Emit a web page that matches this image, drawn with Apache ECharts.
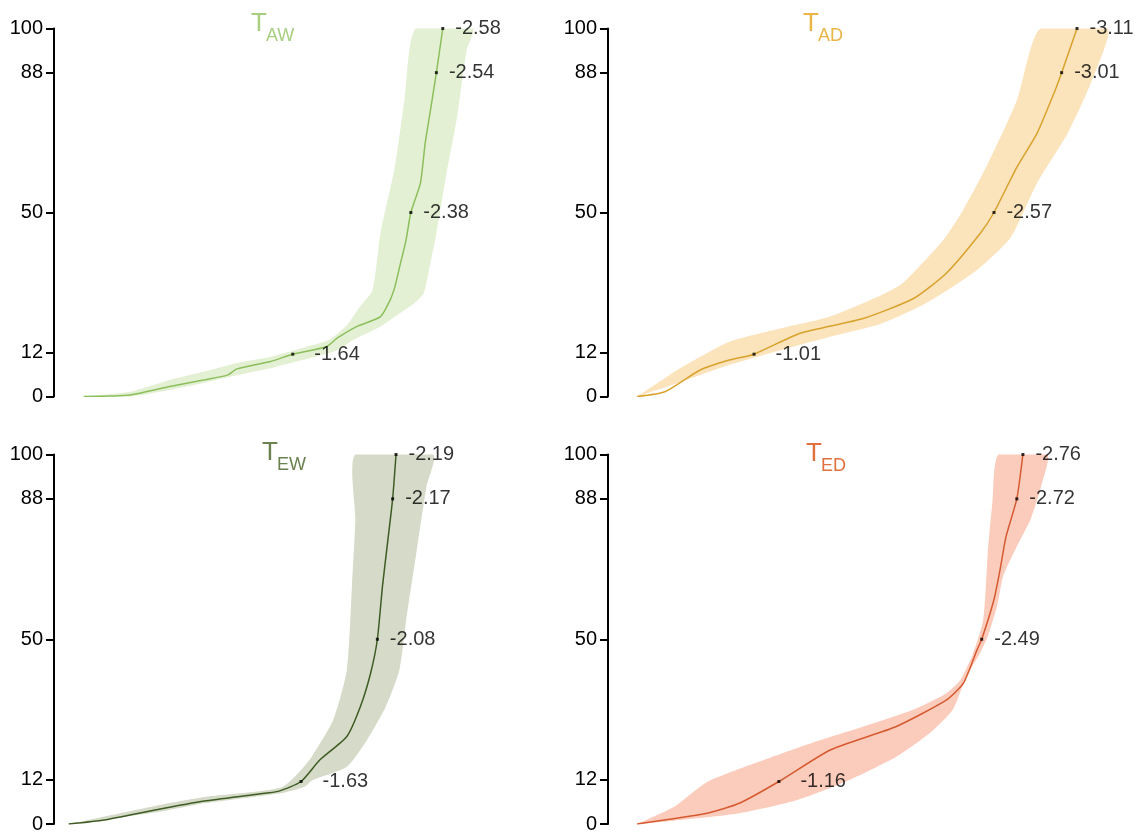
<!DOCTYPE html>
<html>
<head>
<meta charset="utf-8">
<script src="https://cdn.jsdelivr.net/npm/echarts@6/dist/echarts.min.js"></script>
<style>
  html, body { margin: 0; padding: 0; background: #fff; }
  #chart { width: 1138px; height: 834px; }
</style>
</head>
<body>
<div id="chart"></div>
<script>
// Percent levels on the y axis and the quantile levels that carry a labelled dot
const TICKS = [0, 12, 50, 88, 100];
const LEVELS = [11.5, 50, 88, 100];

// Panel subscripts (T_AW, T_AD, T_EW, T_ED)
const panelNames = ['AW', 'AD', 'EW', 'ED'];

// ---- T_AW : [value, percent] ----
const tawLine = [[-0.33,0],[-0.62,0.4],[-0.87,2.7],[-1.08,4.5],[-1.23,5.8],[-1.29,7.5],[-1.50,9.5],
  [-1.85,13.5],[-1.92,15.9],[-2.04,19.0],[-2.19,21.7],[-2.25,26.2],[-2.28,29.8],[-2.31,35.3],[-2.35,42.5],
  [-2.44,58.0],[-2.47,68.9],[-2.50,77.0]];
const tawUpper = [[-0.33,0],[-0.62,1.3],[-0.87,4.5],[-1.08,6.7],[-1.29,9.1],[-1.50,10.8],[-1.70,13.2],
  [-1.87,15.4],[-1.98,19.4],[-2.06,24.4],[-2.14,28.9],[-2.19,44.4],[-2.28,62.4],[-2.34,80.6],[-2.41,100]];
const tawLower = [[-0.33,0],[-0.62,0],[-0.87,1.8],[-1.08,3.7],[-1.29,5.8],[-1.50,7.7],[-1.70,9.9],
  [-1.92,12.6],[-2.02,15.4],[-2.19,19.0],[-2.31,22.6],[-2.40,25.3],[-2.46,28.0],[-2.49,33.5],[-2.54,44.3],
  [-2.60,59.7],[-2.67,76.0],[-2.73,94.2],[-2.77,100]];
const tawMarks = [-1.64, -2.38, -2.54, -2.58];

// ---- T_AD ----
const tadLine = [[-0.25,0],[-0.43,1.3],[-0.66,7.2],[-0.85,9.9],[-1.31,17.2],[-1.72,21.2],[-2.05,26.7],
  [-2.26,33.5],[-2.48,44.3],[-2.72,62.4],[-2.85,71.5],[-2.96,82.4]];
const tadUpper = [[-0.25,0],[-0.53,7.7],[-0.85,14.9],[-1.18,18.5],[-1.50,21.7],[-1.83,27.4],[-1.98,30.9],
  [-2.24,42.5],[-2.37,50.7],[-2.52,62.4],[-2.72,80.6],[-2.87,100]];
const tadLower = [[-0.25,0],[-0.53,3.9],[-0.85,8.6],[-1.18,12.6],[-1.50,16.2],[-1.83,19.7],[-2.13,25.4],
  [-2.46,34.4],[-2.68,43.3],[-2.85,58.0],[-3.05,71.6],[-3.20,85.2],[-3.31,100]];
const tadMarks = [-1.01, -2.57, -3.01, -3.11];

// ---- T_EW ----
const tewLine = [[-0.26,0],[-0.47,1.1],[-0.77,3.8],[-1.06,6.2],[-1.36,8.0],[-1.50,8.9],[-1.74,17.3],
  [-1.90,23.7],[-1.98,31.8],[-2.04,40.8],[-2.11,64.3],[-2.14,76.1]];
const tewUpper = [[-0.26,0],[-0.77,4.9],[-1.06,7.3],[-1.36,8.7],[-1.52,10.0],[-1.62,14.1],[-1.70,18.7],
  [-1.82,28.2],[-1.90,41.7],[-1.93,64.2],[-1.95,82.4],[-1.95,100]];
const tewLower = [[-0.26,0],[-0.77,3.1],[-1.06,5.6],[-1.36,7.4],[-1.51,8.3],[-1.65,10.1],[-1.70,11.9],
  [-1.90,15.5],[-2.02,22.8],[-2.13,31.8],[-2.21,41.7],[-2.25,55.3],[-2.31,73.4],[-2.37,91.4],[-2.41,100]];
const tewMarks = [-1.63, -2.08, -2.17, -2.19];

// ---- T_ED ----
const tedLine = [[-0.23,0],[-0.69,2.9],[-0.90,5.6],[-1.50,20.1],[-1.93,26.4],[-2.26,33.6],[-2.37,38.1],
  [-2.46,47.2],[-2.57,60.7],[-2.61,68.8],[-2.65,77.9]];
const tedUpper = [[-0.23,0],[-0.47,4.6],[-0.69,11.4],[-1.06,17.3],[-1.38,22.0],[-1.71,26.3],[-2.04,30.9],
  [-2.25,35.2],[-2.35,39.0],[-2.43,45.8],[-2.50,55.3],[-2.53,73.4],[-2.56,87.0],[-2.60,100]];
const tedLower = [[-0.23,0],[-0.47,0.9],[-0.90,2.9],[-1.28,6.5],[-1.60,11.5],[-1.93,18.2],[-2.15,24.6],
  [-2.30,30.9],[-2.39,39.9],[-2.48,46.3],[-2.53,50.8],[-2.59,58.9],[-2.63,67.0],[-2.72,75.1],[-2.81,82.4],
  [-2.88,91.4],[-2.92,100]];
const tedMarks = [-1.16, -2.49, -2.72, -2.76];

// Layout and colours of the four panels
const FONT = '"Liberation Sans", Arial, sans-serif';
const panels = [
  { line: tawLine, upper: tawUpper, lower: tawLower, marks: tawMarks,
    lineColor: '#8cbf5c', bandColor: '#e3f0d4', titleColor: '#a8cf80',
    grid: { left: 54, top: 28.5, width: 466, height: 368 }, xMin: -3.064, xMax: -0.144,
    title: { x: 251, y: 24 } },
  { line: tadLine, upper: tadUpper, lower: tadLower, marks: tadMarks,
    lineColor: '#d9a22c', bandColor: '#fbe3bc', titleColor: '#eab446',
    grid: { left: 608, top: 28.5, width: 522, height: 368 }, xMin: -3.4545, xMax: -0.0605,
    title: { x: 803, y: 24 } },
  { line: tewLine, upper: tewUpper, lower: tewLower, marks: tewMarks,
    lineColor: '#3f5b24', bandColor: '#d5dbc8', titleColor: '#6b8150',
    grid: { left: 54, top: 454.5, width: 466, height: 369.5 }, xMin: -2.921, xMax: -0.1733,
    title: { x: 262, y: 453 } },
  { line: tedLine, upper: tedUpper, lower: tedLower, marks: tedMarks,
    lineColor: '#d65a30', bandColor: '#fbcbbb', titleColor: '#e2703e',
    grid: { left: 608, top: 454.5, width: 522, height: 369.5 }, xMin: -3.4623, xMax: -0.0393,
    title: { x: 806, y: 454 } }
];

const grids = [], xAxes = [], yAxes = [], series = [], graphics = [];

panels.forEach((p, i) => {
  grids.push(Object.assign({ containLabel: false, outerBoundsMode: 'none' }, p.grid));

  xAxes.push({
    type: 'value', gridIndex: i, min: p.xMin, max: p.xMax, inverse: true, show: false
  });

  yAxes.push({
    type: 'value', gridIndex: i, min: 0, max: 100,
    axisLine: { show: true, lineStyle: { color: '#000', width: 2 } },
    axisTick: { show: true, length: 8, customValues: TICKS, lineStyle: { color: '#000', width: 2 } },
    axisLabel: { show: true, customValues: TICKS, fontSize: 20, color: '#000', margin: 11, fontFamily: FONT },
    splitLine: { show: false }
  });

  // Uncertainty band: upper edge followed by the lower edge walked back
  const upper = p.upper, lower = p.lower, fill = p.bandColor;
  series.push({
    type: 'custom', xAxisIndex: i, yAxisIndex: i, silent: true, z: 1, clip: false,
    data: [upper[0]],
    renderItem: function (params, api) {
      const pts = upper.concat(lower.slice().reverse()).map(function (d) { return api.coord(d); });
      const topY = api.coord([upper[0][0], 100])[1];
      const botY = api.coord([upper[0][0], 0])[1];
      return {
        type: 'polygon',
        shape: { points: pts, smooth: 0.2, smoothConstraint: [[0, topY], [2000, botY]] },
        style: { fill: fill }
      };
    }
  });

  // Central curve, passing through the labelled quantile points
  const markPts = p.marks.map((v, k) => [v, LEVELS[k]]);
  const curve = p.line.concat(markPts).sort((a, b) => a[1] - b[1]);
  series.push({
    type: 'line', xAxisIndex: i, yAxisIndex: i, data: curve, showSymbol: false, z: 2,
    smooth: 0.2, lineStyle: { color: p.lineColor, width: 1.5 }, silent: true
  });

  // Labelled quantile dots
  series.push({
    type: 'scatter', xAxisIndex: i, yAxisIndex: i, z: 3, symbol: 'rect', symbolSize: 3,
    itemStyle: { color: '#000' },
    data: markPts.map((d, k) => ({
      value: d,
      label: { distance: k === 0 ? 20 : 11 }
    })),
    label: {
      show: true, position: 'right', fontSize: 20, color: '#000', fontFamily: FONT,
      formatter: function (prm) { return prm.value[0].toFixed(2); }
    }
  });

  // Panel title T with subscript
  graphics.push({
    type: 'text', left: p.title.x, top: p.title.y - 13,
    style: { text: 'T', fontSize: 26, fill: p.titleColor, fontFamily: FONT }
  });
  graphics.push({
    type: 'text', left: p.title.x + 15, top: p.title.y + 3,
    style: { text: panelNames[i], fontSize: 18, fill: p.titleColor, fontFamily: FONT }
  });
});

const chart = echarts.init(document.getElementById('chart'), null, { renderer: 'canvas' });
chart.setOption({
  animation: false,
  backgroundColor: '#fff',
  grid: grids,
  xAxis: xAxes,
  yAxis: yAxes,
  series: series,
  graphic: graphics
});
</script>
</body>
</html>
